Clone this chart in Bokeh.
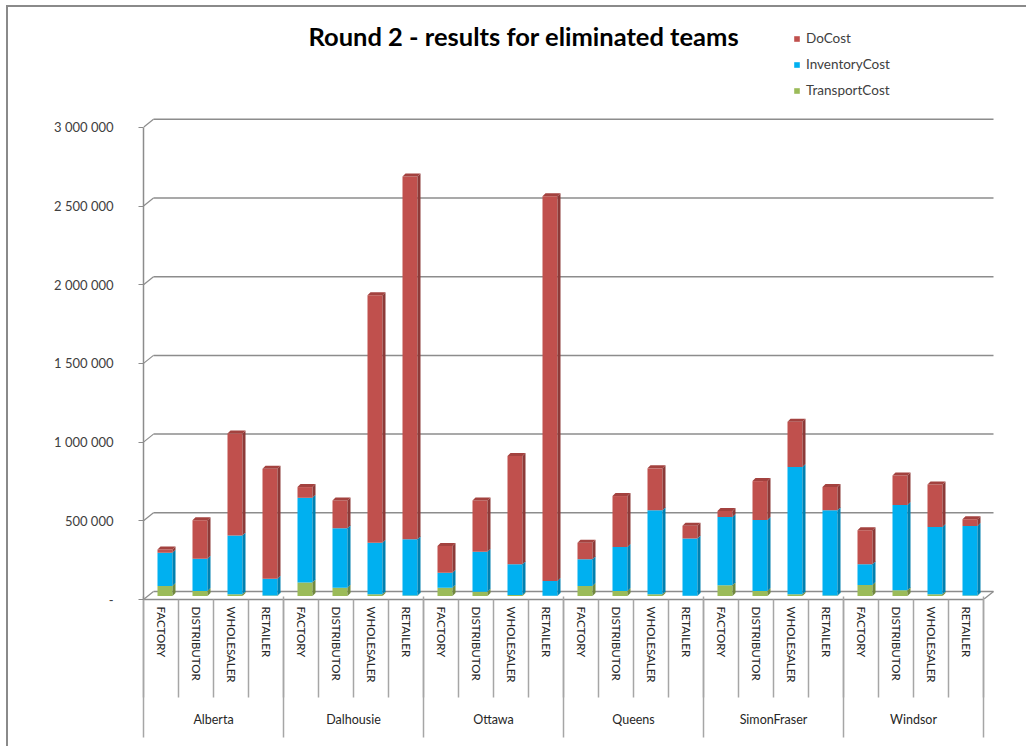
import math
from bokeh.plotting import figure
from bokeh.models import Range1d, LinearAxis, FixedTicker, Legend, LegendItem, ColumnDataSource, Label
from bokeh.embed import file_html
from bokeh.resources import INLINE

# ---------------- data ----------------
title_text = "Round 2 - results for eliminated teams"
teams = ["Alberta", "Dalhousie", "Ottawa", "Queens", "SimonFraser", "Windsor"]
roles = ["FACTORY", "DISTRIBUTOR", "WHOLESALER", "RETAILER"]
transport_cost = [63000, 32000, 11000, 3000, 85000, 53000, 11000, 3000,
                  53000, 27000, 6000, 2000, 63000, 32000, 11000, 2000,
                  68000, 32000, 11000, 3000, 70000, 36000, 11000, 3000]
inventory_cost = [212000, 205000, 374000, 107000, 539000, 377000, 327000, 357000,
                  95000, 254000, 195000, 93000, 170000, 279000, 533000, 363000,
                  434000, 451000, 808000, 541000, 131000, 542000, 427000, 441000]
do_cost = [20000, 244000, 648000, 698000, 68000, 177000, 1573000, 2305000,
           169000, 326000, 688000, 2445000, 105000, 324000, 267000, 82000,
           38000, 247000, 288000, 148000, 216000, 188000, 271000, 43000]
y_ticks = [0, 500000, 1000000, 1500000, 2000000, 2500000, 3000000]
y_tick_labels = ["-", "500 000", "1 000 000", "1 500 000", "2 000 000", "2 500 000", "3 000 000"]

# ---------------- geometry (styling) ----------------
W, H = 1020, 741
FL, FR, FT, FB = 135, 992, 2, 592
CAT_PX = 35.0
PX_PER_M = 157.4
x_end = (FR - FL) / CAT_PX
y_end = (FB - FT) / PX_PER_M * 1e6
ux = 1.0 / CAT_PX            # data units per px (x)
uy = 1e6 / PX_PER_M          # data units per px (y)

n = len(do_cost)
DXW, DYW = 10 * ux, 8 * uy   # back wall offset
DXB, DYB = 4 * ux, 3.5 * uy  # bar offset
BW = 15 * ux                 # bar width
SDX, SDY = 3 * ux, 3 * uy    # bar depth

FONT = "Lato"
GRID = "#8c8c8c"
SEP = "#a6a6a6"

p = figure(width=W, height=H, output_backend="svg", toolbar_location=None,
           x_range=Range1d(0, x_end), y_range=Range1d(0, y_end),
           x_axis_type=None, y_axis_type=None,
           min_border_left=FL, min_border_right=W - FR,
           min_border_top=FT, min_border_bottom=H - FB)
p.outline_line_color = None
p.background_fill_color = "white"
p.border_fill_color = "white"
p.styles = {"margin-left": "6px", "margin-top": "5px",
            "border-left": "2px solid #8a8a8a", "border-top": "2px solid #8a8a8a"}

# chart title (in the top band, position measured from the frame's bottom-left)
title = Label(x=165, y=FB - 28, x_units="screen", y_units="screen", text=title_text,
              text_font=FONT, text_font_style="bold", text_font_size="25.5px",
              text_color="#000000", text_align="left", text_baseline="middle")
p.add_layout(title)

# back wall gridlines + connectors
gx0 = [DXW] * len(y_ticks)
gx1 = [n + DXW] * len(y_ticks)
gy = [v + DYW for v in y_ticks]
p.segment(x0=gx0, y0=gy, x1=gx1, y1=gy, line_color=GRID, line_width=1.5)
p.segment(x0=[0] * len(y_ticks), y0=y_ticks, x1=gx0, y1=gy, line_color=GRID, line_width=1.2)
p.segment(x0=[n], y0=[0], x1=[n + DXW], y1=[DYW], line_color=GRID, line_width=1.2)

# bars
series = [("TransportCost", transport_cost, "#9BBB59", "#71893F"),
          ("InventoryCost", inventory_cost, "#00B0F0", "#0080B0"),
          ("DoCost", do_cost, "#C0504D", "#8C3A38")]
centers = [i + 0.5 + DXB for i in range(n)]
base = [0.0] * n
renderers = {}
side_xs, side_ys, side_c = [], [], []
for name, vals, col, dark in series:
    bottom = [b + DYB for b in base]
    top = [b + v + DYB for b, v in zip(base, vals)]
    src = ColumnDataSource(dict(left=[c - BW / 2 for c in centers], right=[c + BW / 2 for c in centers],
                                bottom=bottom, top=top))
    renderers[name] = p.quad(left="left", right="right", bottom="bottom", top="top", source=src,
                             fill_color=col, line_color=None)
    for i in range(n):
        r = centers[i] + BW / 2
        side_xs.append([r, r + SDX, r + SDX, r])
        side_ys.append([bottom[i], bottom[i] + SDY, top[i] + SDY, top[i]])
        side_c.append(dark)
    base = [b + v for b, v in zip(base, vals)]
p.patches(xs=side_xs, ys=side_ys, fill_color=side_c, line_color=None)
top_xs, top_ys = [], []
for i in range(n):
    l, r, t = centers[i] - BW / 2, centers[i] + BW / 2, base[i] + DYB
    top_xs.append([l, r, r + SDX, l + SDX])
    top_ys.append([t, t, t + SDY, t + SDY])
p.patches(xs=top_xs, ys=top_ys, fill_color="#A3423F", line_color=None)

# y axis
yaxis = LinearAxis(ticker=FixedTicker(ticks=y_ticks), bounds=(0, y_ticks[-1]),
                   major_label_overrides={v: s for v, s in zip(y_ticks, y_tick_labels)},
                   major_tick_out=5, major_tick_in=0, minor_tick_out=0, minor_tick_in=0,
                   axis_line_color=GRID, axis_line_width=1.5, major_tick_line_color=GRID,
                   major_label_text_font=FONT, major_label_text_font_size="13px",
                   major_label_text_color="#404040", major_label_standoff=25)
p.add_layout(yaxis, "left")

# x axis: roles (minor ticks = category separators)
role_ticks = [i + 0.5 for i in range(n)]
xaxis1 = LinearAxis(ticker=FixedTicker(ticks=role_ticks, minor_ticks=list(range(n + 1))),
                    bounds=(0, n),
                    major_label_overrides={t: roles[i % 4] for i, t in enumerate(role_ticks)},
                    major_label_orientation="vertical",
                    major_tick_out=0, major_tick_in=0, minor_tick_out=98, minor_tick_in=0,
                    minor_tick_line_color=SEP, minor_tick_line_width=1.5,
                    axis_line_color=GRID, axis_line_width=1.5,
                    major_label_text_font=FONT, major_label_text_font_size="11.5px",
                    major_label_text_color="#262626", major_label_standoff=-91)
p.add_layout(xaxis1, "below")

# x axis: teams (minor ticks = group separators)
team_ticks = [4 * k + 2 for k in range(len(teams))]
xaxis2 = LinearAxis(ticker=FixedTicker(ticks=team_ticks, minor_ticks=[4 * k for k in range(len(teams) + 1)]),
                    bounds=(0, n),
                    major_label_overrides={t: teams[k] for k, t in enumerate(team_ticks)},
                    major_label_orientation="horizontal",
                    major_tick_out=0, major_tick_in=0, minor_tick_out=52, minor_tick_in=89,
                    minor_tick_line_color=SEP, minor_tick_line_width=1.5,
                    axis_line_color=None,
                    major_label_text_font=FONT, major_label_text_font_size="12.5px",
                    major_label_text_color="#262626", major_label_standoff=-26)
p.add_layout(xaxis2, "below")

# legend: (x, y) is the bottom-left corner, measured from the frame's bottom-left
legend = Legend(items=[LegendItem(label="DoCost", renderers=[renderers["DoCost"]]),
                       LegendItem(label="InventoryCost", renderers=[renderers["InventoryCost"]]),
                       LegendItem(label="TransportCost", renderers=[renderers["TransportCost"]])],
                location=(650, 499), padding=0, margin=0, spacing=6,
                glyph_width=7, glyph_height=7, label_height=20, label_standoff=6,
                label_text_font=FONT, label_text_font_size="13.5px", label_text_color="#404040",
                border_line_color=None, background_fill_alpha=0)
p.add_layout(legend, "center")

open("out.html", "w").write(file_html(p, INLINE))
